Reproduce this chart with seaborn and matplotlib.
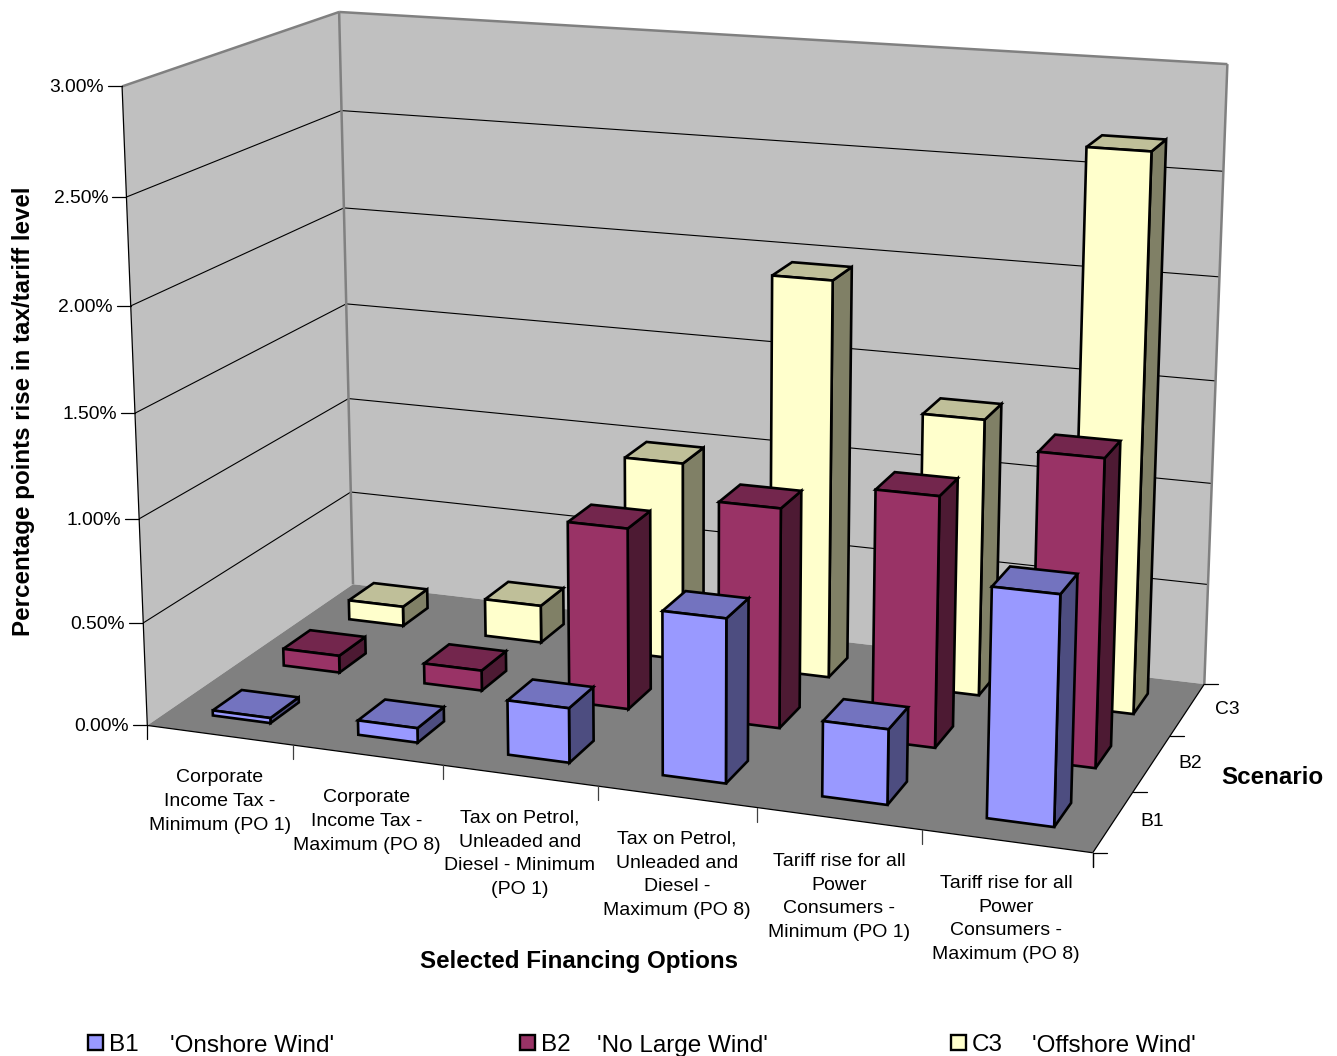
import numpy as np
import pandas as pd
import seaborn as sns
import matplotlib
matplotlib.use("Agg")
import matplotlib.pyplot as plt
from matplotlib.patches import Polygon, Rectangle

# Percentage-point rise per financing option and scenario
options = [
    "Corporate\nIncome Tax -\nMinimum (PO 1)",
    "Corporate\nIncome Tax -\nMaximum (PO 8)",
    "Tax on Petrol,\nUnleaded and\nDiesel - Minimum\n(PO 1)",
    "Tax on Petrol,\nUnleaded and\nDiesel -\nMaximum (PO 8)",
    "Tariff rise for all\nPower\nConsumers -\nMinimum (PO 1)",
    "Tariff rise for all\nPower\nConsumers -\nMaximum (PO 8)",
]
scenarios = ["B1", "B2", "C3"]
scenario_names = ["'Onshore Wind'", "'No Large Wind'", "'Offshore Wind'"]
b1_values = [0.025, 0.07, 0.26, 0.77, 0.35, 1.05]
b2_values = [0.085, 0.10, 0.885, 1.06, 1.195, 1.445]
c3_values = [0.10, 0.19, 0.995, 1.96, 1.355, 2.675]
y_ticks = [0.0, 0.5, 1.0, 1.5, 2.0, 2.5, 3.0]

# Long-form table: category index, scenario index, value
table = pd.DataFrame({"option": range(6), "B1": b1_values, "B2": b2_values, "C3": c3_values})
table = table.melt(id_vars="option", var_name="scenario", value_name="rise")
table["row"] = table["scenario"].map({s: i for i, s in enumerate(scenarios)})

sns.set_theme(style="white")
plt.rcParams["font.family"] = ["Liberation Sans", "DejaVu Sans"]
palette = sns.color_palette(["#9999FF", "#993366", "#FFFFCC"])

W, H = 1337, 1056
fig = plt.figure(figsize=(W / 100, H / 100), dpi=100)
ax = fig.add_axes([0, 0, 1, 1])
ax.set_xlim(0, W)
ax.set_ylim(H, 0)
ax.axis("off")

# Camera calibration: (category, depth, percent) -> canvas position
camera_points = [
    (0, 0, 0, 148, 725), (6, 0, 0, 1092, 852), (6, 3, 0, 1204, 684), (0, 3, 0, 353, 584),
    (0, 0, 3, 122, 86), (0, 3, 3, 338, 12), (6, 3, 3, 1228, 64),
    (0, 0, 2.5, 127, 197), (0, 3, 2.5, 342, 111), (6, 3, 2.5, 1223, 172),
    (0, 0, 2, 131, 306), (0, 0, 1.5, 135, 413), (0, 0, 1, 139, 518), (0, 0, 0.5, 143, 622),
    (1, 0, 0, 293, 746), (2, 0, 0, 443, 767), (3, 0, 0, 597, 787), (4, 0, 0, 757, 808),
    (5, 0, 0, 922, 830), (6, 1, 0, 1134, 791), (6, 2, 0, 1171, 735),
]


def fit_camera(points):
    rows = []
    for x, y, z, u, v in points:
        u, v = u / 1000, v / 1000
        rows.append([x, y, z, 1, 0, 0, 0, 0, -u * x, -u * y, -u * z, -u])
        rows.append([0, 0, 0, 0, x, y, z, 1, -v * x, -v * y, -v * z, -v])
    return np.linalg.svd(np.array(rows, float))[2][-1].reshape(3, 4)


CAMERA = fit_camera(camera_points)


def project(x, y, z):
    p = CAMERA @ np.array([x, y, z, 1.0])
    return p[0] / p[2] * 1000, p[1] / p[2] * 1000


def face(corners, color, zorder, edge="none", lw=0):
    ax.add_patch(Polygon([project(*c) for c in corners], closed=True, facecolor=color,
                         edgecolor=edge, linewidth=lw, joinstyle="miter", zorder=zorder))


def segment(a, b, color="black", lw=0.8, zorder=2):
    pa, pb = project(*a), project(*b)
    ax.plot([pa[0], pb[0]], [pa[1], pb[1]], color=color, lw=lw, zorder=zorder,
            solid_capstyle="butt")


# Walls and floor
face([(0, 0, 0), (0, 3, 0), (0, 3, 3), (0, 0, 3)], "#C0C0C0", 1)
face([(0, 3, 0), (6, 3, 0), (6, 3, 3), (0, 3, 3)], "#C0C0C0", 1)
face([(0, 0, 0), (6, 0, 0), (6, 3, 0), (0, 3, 0)], "#808080", 1.5)

for v in y_ticks[1:-1]:
    segment((0, 0, v), (0, 3, v))
    segment((0, 3, v), (6, 3, v))

segment((0, 3, 0), (0, 3, 3), "#808080", 1.8)
segment((0, 0, 3), (0, 3, 3), "#808080", 1.8)
segment((0, 3, 3), (6, 3, 3), "#808080", 1.8)
segment((6, 3, 0), (6, 3, 3), "#808080", 1.8)
segment((0, 0, 0), (0, 0, 3), "black", 0.9)
segment((0, 0, 0), (6, 0, 0), "black", 0.9, 2)
segment((6, 0, 0), (6, 3, 0), "black", 0.9, 2)

# Axis ticks and their labels
TICK = 14
for v in y_ticks:
    px, py = project(0, 0, v)
    ax.plot([px - TICK, px], [py, py], color="black", lw=0.9, zorder=2)
    ax.text(px - TICK - 4, py + 1.5, f"{v:.2f}%", ha="right", va="center", fontsize=13.9, color="black")
for i in range(7):
    px, py = project(i, 0, 0)
    ax.plot([px, px], [py, py + TICK], color="#404040" if 0 < i < 6 else "black", lw=0.9, zorder=2)
for i in range(4):
    px, py = project(6, i, 0)
    ax.plot([px, px + TICK], [py, py], color="black", lw=0.9, zorder=2)
    if i == 0:
        ax.plot([px, px], [py, py + TICK], color="black", lw=0.9, zorder=2)

category_label_xy = [(220, 801.5), (367, 821.5), (520, 854), (677, 875), (839, 897), (1006, 919)]
for text, (tx, ty) in zip(options, category_label_xy):
    ax.text(tx, ty, text, ha="center", va="center", fontsize=14.0, linespacing=1.52, color="black")
for text, (tx, ty) in zip(scenarios, [(1152, 822), (1190, 764), (1227, 710)]):
    ax.text(tx, ty, text, ha="center", va="center", fontsize=13.9, color="black")

ax.text(579, 961.5, "Selected Financing Options", ha="center", va="center", fontsize=17.35, fontweight="bold", color="black")
ax.text(1272, 778, "Scenario", ha="center", va="center", fontsize=17.35, fontweight="bold", color="black")
ax.text(24, 411, "Percentage points rise in tax/tariff level", ha="center", va="center", rotation=90,
        fontsize=17.4, fontweight="bold", color="black")

# Bars, painted from the back row forward and left to right
BAR = 0.4
EDGE = 1.9
z = 3.0
for row in (2, 1, 0):
    for _, rec in table[table["row"] == row].sort_values("option").iterrows():
        x0 = rec["option"] + (1 - BAR) / 2
        x1 = x0 + BAR
        y0 = row + (1 - BAR) / 2
        y1 = y0 + BAR
        h = rec["rise"]
        rgb = np.array(palette[row])
        face([(x1, y0, 0), (x1, y1, 0), (x1, y1, h), (x1, y0, h)], tuple(rgb * 0.5), z, "black", EDGE)
        face([(x0, y0, h), (x1, y0, h), (x1, y1, h), (x0, y1, h)], tuple(rgb * 0.75), z, "black", EDGE)
        face([(x0, y0, 0), (x1, y0, 0), (x1, y0, h), (x0, y0, h)], tuple(rgb), z, "black", EDGE)
        z += 0.01

# Legend row
for i, (code, name, sx, tx, nx) in enumerate(zip(scenarios, scenario_names, (88, 520, 951), (123.5, 555.5, 987.5), (170, 597, 1032))):
    ax.add_patch(Rectangle((sx, 1035), 15, 15, facecolor=palette[i], edgecolor="black", linewidth=1.7, zorder=3))
    ax.text(tx, 1045, code, ha="center", va="center", fontsize=17.5, color="black")
    ax.text(nx, 1046, name, ha="left", va="center", fontsize=17.5, color="black")

sns.despine(ax=ax, left=True, bottom=True)
fig.savefig("out.png", dpi=100, facecolor="white")
